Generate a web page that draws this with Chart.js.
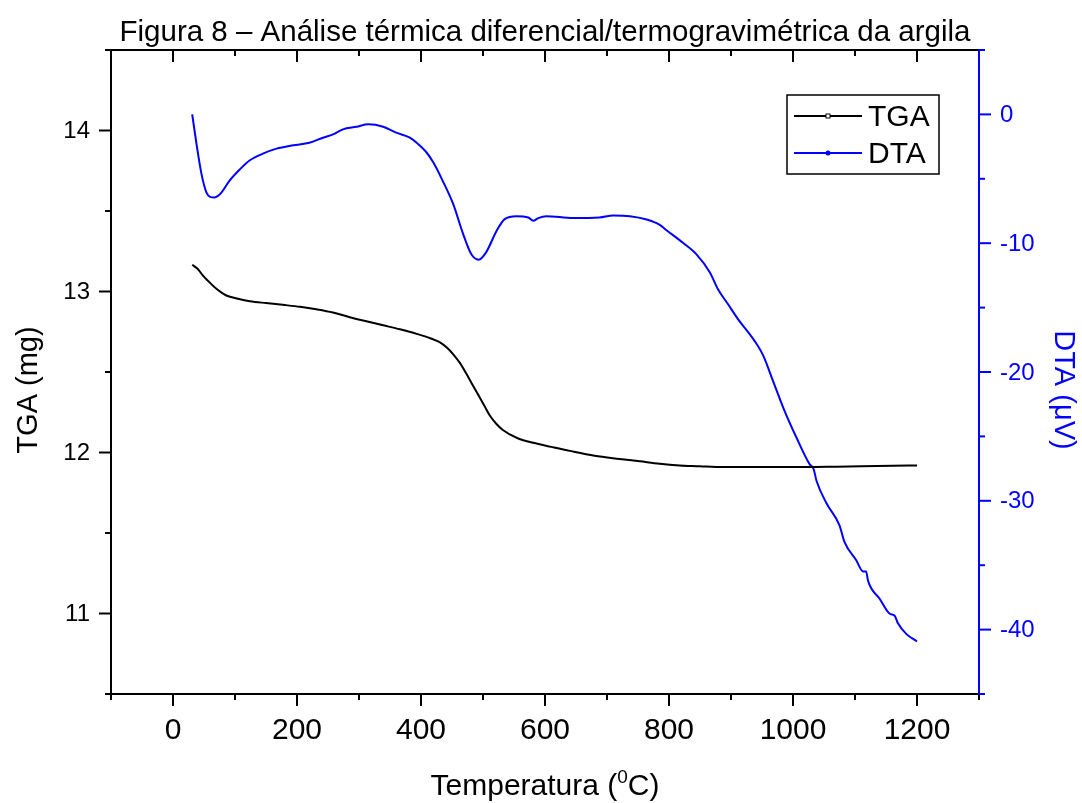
<!DOCTYPE html>
<html>
<head>
<meta charset="utf-8">
<script src="https://cdn.jsdelivr.net/npm/chart.js@4/dist/chart.umd.min.js"></script>
<style>
  html, body { margin: 0; padding: 0; background: #fff; }
  canvas { display: block; }
</style>
</head>
<body>
<canvas id="chart-dta-tga" width="1082" height="803"></canvas>
<script>
// TGA curve (mg vs temperature in C)
const tgaTemp = [31, 40, 48, 58, 70, 86, 105, 124, 150, 177, 205, 231, 258, 285, 312, 339, 366, 393, 415, 430,
  442, 452, 463, 473, 484, 495, 503, 511, 521, 532, 555, 581, 610, 640, 680, 720, 753, 785, 817, 850,
  876, 920, 970, 1022, 1070, 1110, 1161, 1200];
const tgaMass = [13.166, 13.14, 13.10, 13.06, 13.017, 12.975, 12.955, 12.94, 12.928, 12.917, 12.905, 12.89, 12.87, 12.84, 12.815, 12.79, 12.765, 12.737, 12.71, 12.685,
  12.65, 12.61, 12.555, 12.49, 12.415, 12.34, 12.285, 12.23, 12.18, 12.14, 12.09, 12.06, 12.035, 12.01, 11.98, 11.96, 11.945, 11.93, 11.92, 11.915,
  11.91, 11.91, 11.91, 11.91, 11.912, 11.914, 11.917, 11.92];

// DTA curve (uV vs temperature in C)
const dtaTemp = [31, 38, 46, 54, 60, 67, 72, 78, 91, 108, 124, 145, 167, 194, 220, 242, 258, 274, 296, 315,
  339, 360, 382, 393, 408, 420, 435, 452, 468, 481, 493, 505, 522, 535, 554, 573, 581, 589, 602, 645,
  688, 710, 737, 764, 785, 796, 823, 844, 866, 879, 895, 911, 938, 952, 968, 984, 1005, 1027, 1033, 1038,
  1054, 1075, 1083, 1102, 1113, 1118, 1121, 1140, 1156, 1164, 1169, 1183, 1200];
const dtaSignal = [0, -2.32, -4.64, -6.07, -6.4, -6.45, -6.35, -6.07, -5.16, -4.26, -3.56, -3.05, -2.66, -2.40, -2.20, -1.81, -1.55, -1.16, -0.96, -0.77,
  -0.96, -1.42, -1.81, -2.20, -2.9, -3.74, -5.16, -6.97, -9.29, -10.84, -11.28, -10.71, -9.03, -8.13, -7.9, -8.0, -8.26, -8.05, -7.9, -8.05,
  -8.0, -7.85, -7.9, -8.16, -8.57, -8.99, -9.99, -10.85, -12.28, -13.58, -14.72, -15.87, -17.58, -18.73, -20.73, -22.74, -25.03, -27.17, -27.5, -28.46,
  -30.19, -31.9, -33.19, -34.62, -35.48, -35.48, -36.2, -37.62, -38.77, -38.92, -39.49, -40.35, -40.92];

// ticks
const xMajorTicks = [0, 200, 400, 600, 800, 1000, 1200];
const xMinorTicks = [-100, 100, 300, 500, 700, 900, 1100, 1300];
const tgaMajorTicks = [11, 12, 13, 14];
const tgaMinorTicks = [10.5, 11.5, 12.5, 13.5, 14.5];
const dtaMajorTicks = [0, -10, -20, -30, -40];
const dtaMinorTicks = [5, -5, -15, -25, -35, -45];

const TITLE = 'Figura 8 – Análise térmica diferencial/termogravimétrica da argila';
const FONT = "'Liberation Sans', Arial, sans-serif";
const BLUE = '#0000FF';
const BLACK = '#000000';

function toPoints(xs, ys) {
  return xs.map((x, i) => ({ x, y: ys[i] }));
}

function line(ctx, x1, y1, x2, y2) {
  ctx.beginPath();
  ctx.moveTo(x1, y1);
  ctx.lineTo(x2, y2);
  ctx.stroke();
}

// Origin style frame: axes, ticks, labels, titles and legend box
const originFrame = {
  id: 'originFrame',
  afterDatasetsDraw(chart) {
    const { ctx, chartArea: a, scales } = chart;
    const x = scales.x, yl = scales.y, yr = scales.y1;
    ctx.save();
    ctx.lineWidth = 2;
    ctx.lineCap = 'butt';

    // black frame: left, bottom, top
    ctx.strokeStyle = BLACK;
    line(ctx, a.left, a.top - 1, a.left, a.bottom + 1);
    line(ctx, a.left - 1, a.bottom, a.right, a.bottom);
    line(ctx, a.left - 1, a.top, a.right, a.top);

    // x ticks (bottom outward, top inward)
    for (const v of xMajorTicks) {
      const px = x.getPixelForValue(v);
      line(ctx, px, a.bottom, px, a.bottom + 12);
      line(ctx, px, a.top, px, a.top + 12);
    }
    for (const v of xMinorTicks) {
      const px = x.getPixelForValue(v);
      line(ctx, px, a.bottom, px, a.bottom + 6);
      line(ctx, px, a.top, px, a.top + 6);
    }
    ctx.fillStyle = BLACK;
    ctx.font = '30px ' + FONT;
    ctx.textAlign = 'center';
    ctx.textBaseline = 'alphabetic';
    for (const v of xMajorTicks) {
      ctx.fillText(String(v), x.getPixelForValue(v), a.bottom + 45);
    }

    // left TGA ticks
    for (const v of tgaMajorTicks) {
      const py = yl.getPixelForValue(v);
      line(ctx, a.left - 12, py, a.left, py);
    }
    for (const v of tgaMinorTicks) {
      const py = yl.getPixelForValue(v);
      line(ctx, a.left - 6, py, a.left, py);
    }
    ctx.font = '24px ' + FONT;
    ctx.textAlign = 'right';
    ctx.textBaseline = 'middle';
    for (const v of tgaMajorTicks) {
      ctx.fillText(String(v), a.left - 21, yl.getPixelForValue(v) + 1);
    }

    // right DTA axis in blue
    ctx.strokeStyle = BLUE;
    ctx.fillStyle = BLUE;
    line(ctx, a.right, a.top - 1, a.right, a.bottom + 1);
    for (const v of dtaMajorTicks) {
      const py = yr.getPixelForValue(v);
      line(ctx, a.right, py, a.right + 12, py);
    }
    for (const v of dtaMinorTicks) {
      const py = yr.getPixelForValue(v);
      line(ctx, a.right, py, a.right + 6, py);
    }
    ctx.textAlign = 'left';
    for (const v of dtaMajorTicks) {
      ctx.fillText(String(v), a.right + 21, yr.getPixelForValue(v) + 1);
    }

    // axis titles
    const midY = (a.top + a.bottom) / 2 + 18;
    ctx.font = '29px ' + FONT;
    ctx.textAlign = 'center';
    ctx.textBaseline = 'alphabetic';
    ctx.save();
    ctx.translate(a.right + 76, midY);
    ctx.rotate(Math.PI / 2);
    ctx.fillText('DTA (μV)', 0, 0);
    ctx.restore();

    ctx.fillStyle = BLACK;
    ctx.save();
    ctx.translate(a.left - 74, midY);
    ctx.rotate(-Math.PI / 2);
    ctx.fillText('TGA (mg)', 0, 0);
    ctx.restore();

    // x title with superscript 0
    const partA = 'Temperatura (', sup = '0', partB = 'C)';
    ctx.font = '30px ' + FONT;
    const wA = ctx.measureText(partA).width, wB = ctx.measureText(partB).width;
    ctx.font = '19px ' + FONT;
    const wS = ctx.measureText(sup).width;
    let tx = (a.left + a.right) / 2 - (wA + wS + wB) / 2;
    const ty = a.bottom + 101;
    ctx.textAlign = 'left';
    ctx.font = '30px ' + FONT;
    ctx.fillText(partA, tx, ty);
    tx += wA;
    ctx.font = '19px ' + FONT;
    ctx.fillText(sup, tx, ty - 12);
    tx += wS;
    ctx.font = '30px ' + FONT;
    ctx.fillText(partB, tx, ty);

    // chart title
    ctx.textAlign = 'center';
    ctx.font = '29.5px ' + FONT;
    ctx.fillText(TITLE, (a.left + a.right) / 2, a.top - 9);

    // legend box
    const lx = a.right - 192, ly = a.top + 45, lw = 152, lh = 79;
    ctx.lineWidth = 1.5;
    ctx.strokeStyle = BLACK;
    ctx.strokeRect(lx, ly, lw, lh);
    ctx.font = '30px ' + FONT;
    ctx.textBaseline = 'middle';
    ctx.textAlign = 'left';
    chart.data.datasets.forEach((ds, i) => {
      const ry = ly + 21 + i * 37;
      ctx.strokeStyle = ds.borderColor;
      ctx.lineWidth = 2;
      line(ctx, lx + 7, ry, lx + 75, ry);
      if (i === 0) {
        ctx.fillStyle = '#fff';
        ctx.lineWidth = 1;
        ctx.fillRect(lx + 39, ry - 2, 4, 4);
        ctx.strokeRect(lx + 39, ry - 2, 4, 4);
      } else {
        ctx.fillStyle = ds.borderColor;
        ctx.beginPath();
        ctx.arc(lx + 41, ry, 2.5, 0, Math.PI * 2);
        ctx.fill();
      }
      ctx.fillStyle = BLACK;
      ctx.fillText(ds.label, lx + 81, ry + 2);
    });

    ctx.restore();
  }
};

new Chart(document.getElementById('chart-dta-tga'), {
  type: 'line',
  data: {
    datasets: [
      {
        label: 'TGA',
        data: toPoints(tgaTemp, tgaMass),
        yAxisID: 'y',
        borderColor: BLACK,
        borderWidth: 2,
        pointRadius: 0,
        cubicInterpolationMode: 'monotone'
      },
      {
        label: 'DTA',
        data: toPoints(dtaTemp, dtaSignal),
        yAxisID: 'y1',
        borderColor: BLUE,
        borderWidth: 2,
        pointRadius: 0,
        cubicInterpolationMode: 'monotone'
      }
    ]
  },
  options: {
    responsive: false,
    animation: false,
    layout: { padding: { left: 111, top: 50, right: 103, bottom: 109 } },
    plugins: {
      legend: { display: false },
      tooltip: { enabled: false },
      title: { display: false }
    },
    scales: {
      x: { type: 'linear', min: -100, max: 1300, display: false },
      y: { type: 'linear', position: 'left', min: 10.5, max: 14.5, display: false },
      y1: { type: 'linear', position: 'right', min: -45, max: 5, display: false }
    }
  },
  plugins: [originFrame]
});
</script>
</body>
</html>
